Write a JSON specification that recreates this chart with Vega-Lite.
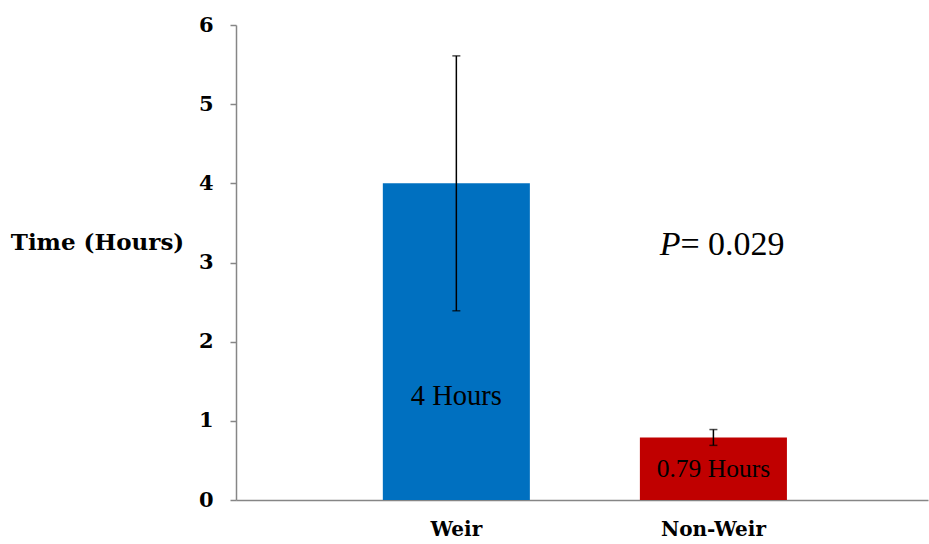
{
  "$schema": "https://vega.github.io/schema/vega-lite/v6.json",
  "width": 692,
  "height": 475,
  "autosize": "none",
  "padding": {"left": 236, "top": 25, "right": 1, "bottom": 44},
  "background": "white",
  "config": {"view": {"stroke": null}},
  "data": {
    "values": [
      {"group": "Weir", "hours": 4.0, "low": 2.39, "high": 5.61, "label": "4 Hours"},
      {"group": "Non-Weir", "hours": 0.79, "low": 0.69, "high": 0.89, "label": "0.79 Hours"}
    ]
  },
  "encoding": {
    "x": {
      "field": "group",
      "type": "nominal",
      "sort": ["Weir", "Non-Weir"],
      "scale": {"paddingInner": 0.428, "paddingOuter": 0.56, "align": 0.51},
      "axis": {
        "title": null,
        "labelAngle": 0,
        "ticks": false,
        "labelFont": "DejaVu Serif",
        "labelFontWeight": "bold",
        "labelFontSize": 20,
        "labelColor": "#000000",
        "labelPadding": 19,
        "domainColor": "#868686",
        "domainWidth": 1.5
      }
    }
  },
  "layer": [
    {
      "mark": {"type": "bar"},
      "encoding": {
        "y": {
          "field": "hours",
          "type": "quantitative",
          "scale": {"domain": [0, 6]},
          "axis": {
            "title": "Time (Hours)",
            "titleAngle": 0,
            "titleX": -139,
            "titleY": 217,
            "titleAlign": "center",
            "titleBaseline": "middle",
            "titleFont": "DejaVu Serif",
            "titleFontWeight": "bold",
            "titleFontSize": 23,
            "titleColor": "#000000",
            "values": [0, 1, 2, 3, 4, 5, 6],
            "format": "d",
            "grid": false,
            "tickSize": 6,
            "tickColor": "#868686",
            "tickWidth": 1.5,
            "domainColor": "#868686",
            "domainWidth": 1.5,
            "labelFont": "DejaVu Serif",
            "labelFontWeight": "bold",
            "labelFontSize": 21,
            "labelColor": "#000000",
            "labelPadding": 17
          }
        },
        "color": {
          "field": "group",
          "type": "nominal",
          "scale": {"domain": ["Weir", "Non-Weir"], "range": ["#0070C0", "#C00000"]},
          "legend": null
        }
      }
    },
    {
      "mark": {"type": "rule", "color": "#000000", "strokeWidth": 1.5},
      "encoding": {
        "y": {"field": "low", "type": "quantitative"},
        "y2": {"field": "high"}
      }
    },
    {
      "mark": {"type": "tick", "color": "#000000", "size": 8, "thickness": 1.5, "orient": "horizontal"},
      "encoding": {"y": {"field": "low", "type": "quantitative"}}
    },
    {
      "mark": {"type": "tick", "color": "#000000", "size": 8, "thickness": 1.5, "orient": "horizontal"},
      "encoding": {"y": {"field": "high", "type": "quantitative"}}
    },
    {
      "transform": [{"filter": "datum.group === 'Weir'"}],
      "mark": {"type": "text", "font": "Liberation Serif", "fontSize": 28.5, "color": "#000000", "baseline": "middle"},
      "encoding": {
        "y": {"datum": 1.31, "type": "quantitative"},
        "text": {"field": "label"}
      }
    },
    {
      "transform": [{"filter": "datum.group === 'Non-Weir'"}],
      "mark": {"type": "text", "font": "Liberation Serif", "fontSize": 25.5, "color": "#000000", "baseline": "middle"},
      "encoding": {
        "y": {"datum": 0.39, "type": "quantitative"},
        "text": {"field": "label"}
      }
    },
    {
      "transform": [{"filter": "datum.group === 'Non-Weir'"}],
      "mark": {"type": "text", "font": "Liberation Serif", "fontSize": 34, "fontStyle": "italic", "color": "#000000", "baseline": "middle", "align": "right", "dx": -33, "text": "P"},
      "encoding": {
        "y": {"datum": 3.22, "type": "quantitative"}
      }
    },
    {
      "transform": [{"filter": "datum.group === 'Non-Weir'"}],
      "mark": {"type": "text", "font": "Liberation Serif", "fontSize": 34, "color": "#000000", "baseline": "middle", "align": "left", "dx": -33, "text": "= 0.029"},
      "encoding": {
        "y": {"datum": 3.22, "type": "quantitative"}
      }
    }
  ]
}
